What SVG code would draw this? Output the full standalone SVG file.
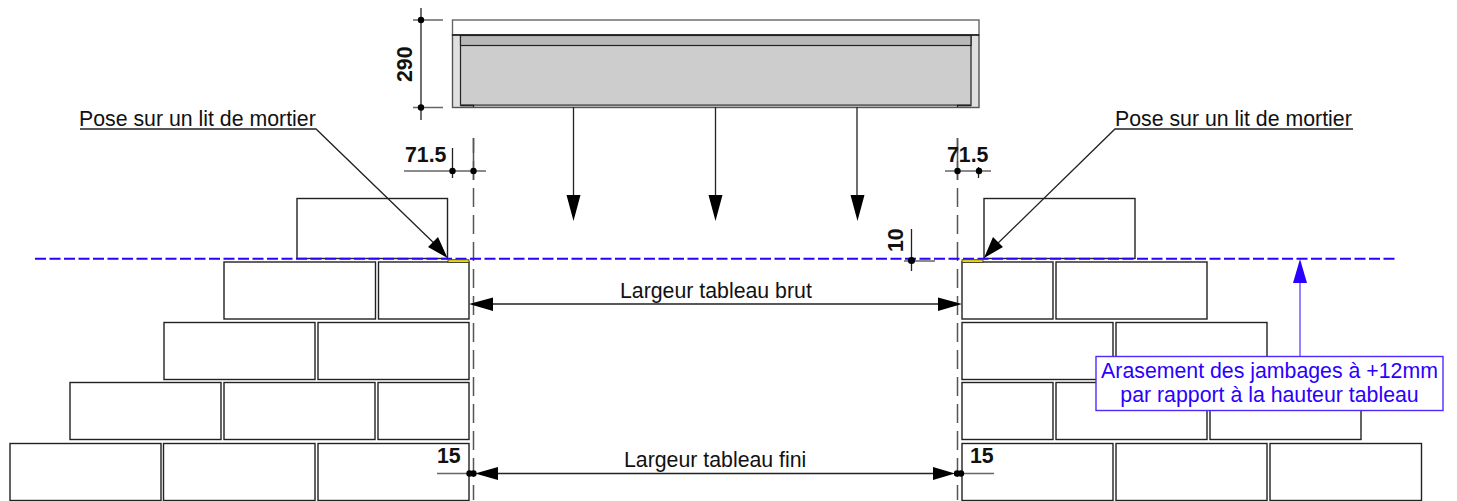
<svg xmlns="http://www.w3.org/2000/svg" width="1457" height="501" viewBox="0 0 1457 501">
<style>
.b{fill:#fff;stroke:#222;stroke-width:1.400}
.l{stroke:#222;stroke-width:1.300;fill:none}
.g{stroke:#666;stroke-width:1.500;fill:none}
.t{font-family:"Liberation Sans",Arial,sans-serif;font-size:21.300px;fill:#111}
.d{font-family:"Liberation Sans",Arial,sans-serif;font-size:21.300px;font-weight:bold;fill:#111}
.bt{font-family:"Liberation Sans",Arial,sans-serif;font-size:21.300px;fill:#2a00ff;text-anchor:middle}
.ah{fill:#000}
.y{fill:#e6d800;stroke:#333;stroke-width:0.800}
</style>
<g id="lintel">
<rect x="452.500" y="20" width="526.500" height="15" fill="#fff" stroke="#666" stroke-width="1.400"/>
<rect x="452.500" y="35" width="526.500" height="72.500" fill="#e0e0e0" stroke="#555" stroke-width="1.400"/>
<rect x="460.500" y="35.500" width="510.500" height="70" fill="#cdcdcd" stroke="#222" stroke-width="1.200"/>
<rect x="460.500" y="35.500" width="510.500" height="10" fill="#b8b8b8" stroke="#222" stroke-width="1.200"/>
<path d="M452 35H979" stroke="#222" stroke-width="1.300"/>
<path d="M460.500 105.200H971" stroke="#666" stroke-width="1.800"/>
<path d="M460.500 105.500H473.500V107M971 105.500H957.500V107" class="l"/>
</g>
<g id="bricks-left">
<rect class="b" x="297" y="198.500" width="150.500" height="60"/>
<rect class="b" x="224" y="262" width="151.500" height="57"/><rect class="b" x="378.500" y="262" width="90.500" height="57"/>
<rect class="b" x="164" y="322.500" width="151" height="57"/><rect class="b" x="318" y="322.500" width="151" height="57"/>
<rect class="b" x="70" y="382.500" width="151" height="57"/><rect class="b" x="224" y="382.500" width="151" height="57"/><rect class="b" x="378" y="382.500" width="91" height="57"/>
<rect class="b" x="10" y="443.500" width="151" height="57"/><rect class="b" x="163.500" y="443.500" width="151.500" height="57"/><rect class="b" x="318" y="443.500" width="151" height="57"/>
</g>
<g id="bricks-right">
<rect class="b" x="984" y="198.500" width="151" height="60"/>
<rect class="b" x="962" y="262" width="91" height="57"/><rect class="b" x="1056" y="262" width="151" height="57"/>
<rect class="b" x="962" y="322.500" width="151" height="57"/><rect class="b" x="1116" y="322.500" width="151" height="57"/>
<rect class="b" x="962" y="382.500" width="91" height="57"/><rect class="b" x="1056" y="382.500" width="151" height="57"/><rect class="b" x="1210" y="382.500" width="151" height="57"/>
<rect class="b" x="962" y="443.500" width="151" height="57"/><rect class="b" x="1116" y="443.500" width="151" height="57"/><rect class="b" x="1270" y="443.500" width="151.500" height="57"/>
</g>
<g id="connectors">
<path d="M473.500 138V500M957.500 138V500" stroke="#555" stroke-width="1.500" fill="none" stroke-dasharray="19 8" stroke-dashoffset="4"/>
<path d="M473.500 138V180M957.500 138V180" stroke="#555" stroke-width="1.500" fill="none"/>
<path d="M35 258.700H1397" stroke="#2a00ff" stroke-width="2" stroke-dasharray="11 3.500"/>
<path class="l" d="M573.500 107V195M715.500 107V195M857 107V195"/>
<path class="ah" d="M566.500 195H580.500L573.500 221ZM708.500 195H722.500L715.500 221ZM850.500 195H864.500L857.500 221Z"/>
<path class="l" d="M80 129H316L438 247M1353 129H1115L994 247"/>
<path class="ah" d="M447.500 258L428 247L438 237ZM984 258L993 237L1003 247Z"/>
<path class="l" d="M493 304H938M498 473.500H933"/>
<path class="ah" d="M469 304L493 297.500V311ZM962 304L938 297.500V311ZM475 473.500L498 467V480ZM955 473.500L933 467V480Z"/>
<path class="g" d="M413 20H443M413 107.500H443M404 171H486M945 171H991M904 261H935M437 473.500H473M958 473.500H994"/>
<path class="l" d="M421 8V120M452.500 148V178M978.500 167V178M911.500 229V271"/>
<g fill="#000"><circle cx="421" cy="20" r="3.200"/><circle cx="421" cy="107.500" r="3.200"/><circle cx="452.500" cy="171" r="3.200"/><circle cx="473.500" cy="171" r="3.200"/><circle cx="957.500" cy="171" r="3.200"/><circle cx="979" cy="171" r="3.200"/><circle cx="911.500" cy="260.500" r="3.600"/><circle cx="469.500" cy="473.500" r="3.200"/><circle cx="473.500" cy="473.500" r="3.200"/><circle cx="957" cy="473.500" r="3.200"/><circle cx="961" cy="473.500" r="3.200"/></g>
<path d="M1300 356V283" stroke="#6a4dff" stroke-width="1.400"/>
<path d="M1300 259L1307 283H1293Z" fill="#2a00ff"/>
</g>
<g id="mortar">
<rect class="y" x="448" y="259.700" width="21" height="2.800"/>
<rect class="y" x="962" y="259.700" width="21" height="2.800"/>
</g>
<g id="labels">
<text class="t" x="79" y="126">Pose sur un lit de mortier</text>
<text class="t" x="1115" y="126">Pose sur un lit de mortier</text>
<text class="t" x="620" y="298">Largeur tableau brut</text>
<text class="t" x="624" y="467">Largeur tableau fini</text>
<text class="d" x="405" y="162">71.5</text>
<text class="d" x="947" y="162">71.5</text>
<text class="d" x="437" y="463">15</text>
<text class="d" x="970" y="463">15</text>
<text class="d" transform="translate(412 82) rotate(-90)">290</text>
<text class="d" transform="translate(903 252) rotate(-90)">10</text>
</g>
<g id="note">
<rect x="1096" y="356.500" width="347" height="54" fill="#fff" stroke="#4a2bff" stroke-width="1.400"/>
<text class="bt" x="1269.500" y="377.500">Arasement des jambages à +12mm</text>
<text class="bt" x="1269.500" y="402">par rapport à la hauteur tableau</text>
</g>
</svg>
